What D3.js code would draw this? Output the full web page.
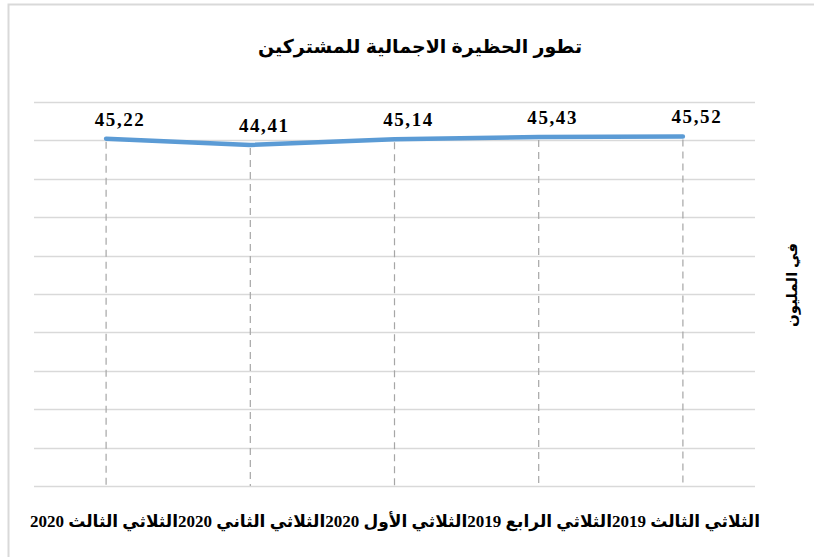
<!DOCTYPE html>
<html>
<head>
<meta charset="utf-8">
<script src="https://cdn.jsdelivr.net/npm/d3@7/dist/d3.min.js"></script>
<style>
  body { margin: 0; background: #fff; }
  svg { display: block; }
</style>
</head>
<body>
<div id="chart"></div>
<script>
const chartTitle = "تطور الحظيرة الاجمالية للمشتركين";
const yTitle = "في المليون";
const categories = [
  "الثلاثي الثالث 2019",
  "الثلاثي الرابع 2019",
  "الثلاثي الأول 2020",
  "الثلاثي الثاني 2020",
  "الثلاثي الثالث 2020"
];
// points run left to right in the order they appear on the picture
const values = [45.22, 44.41, 45.14, 45.43, 45.52];
const yTicks = [0, 5, 10, 15, 20, 25, 30, 35, 40, 45, 50];

const width = 814;
const height = 557;
const margin = { top: 102, right: 59, bottom: 71, left: 34 };

const svg = d3.select("#chart")
  .append("svg")
  .attr("width", width)
  .attr("height", height);

// chart frame (right and bottom run past the picture)
svg.append("rect")
  .attr("x", 8.5)
  .attr("y", 4.5)
  .attr("width", width + 10)
  .attr("height", height + 10)
  .attr("fill", "none")
  .attr("stroke", "#d9d9d9")
  .attr("stroke-width", 2);

const x = d3.scaleBand()
  .domain(d3.range(values.length))
  .range([margin.left, width - margin.right]);

const y = d3.scaleLinear()
  .domain([0, 50])
  .range([height - margin.bottom, margin.top]);

// horizontal gridlines
svg.append("g")
  .selectAll("line")
  .data(yTicks)
  .join("line")
  .attr("x1", margin.left)
  .attr("x2", width - margin.right)
  .attr("y1", d => Math.round(y(d)) + 0.5)
  .attr("y2", d => Math.round(y(d)) + 0.5)
  .attr("stroke", "#d9d9d9")
  .attr("stroke-width", 1.5);

const cx = i => x(i) + x.bandwidth() / 2;

// dashed drop lines
svg.append("g")
  .selectAll("line")
  .data(values)
  .join("line")
  .attr("x1", (d, i) => cx(i))
  .attr("x2", (d, i) => cx(i))
  .attr("y1", d => y(d) + 3)
  .attr("y2", y(0))
  .attr("stroke", "#a6a6a6")
  .attr("stroke-width", 1.2)
  .attr("stroke-dasharray", "7,5");

const line = d3.line()
  .x((d, i) => cx(i))
  .y(d => y(d));

svg.append("path")
  .datum(values)
  .attr("d", line)
  .attr("fill", "none")
  .attr("stroke", "#5b9bd5")
  .attr("stroke-width", 4.5)
  .attr("stroke-linecap", "round")
  .attr("stroke-linejoin", "round");

// data labels
svg.append("g")
  .selectAll("text")
  .data(values)
  .join("text")
  .attr("x", (d, i) => cx(i) + 14)
  .attr("y", d => y(d) - 13)
  .attr("text-anchor", "middle")
  .attr("font-family", "'Liberation Serif', 'Times New Roman', serif")
  .attr("font-weight", "bold")
  .attr("font-size", 19)
  .attr("letter-spacing", 1.6)
  .attr("fill", "#000")
  .text(d => d.toFixed(2).replace(".", ","));

// title
svg.append("text")
  .attr("x", 420)
  .attr("y", 53)
  .attr("text-anchor", "middle")
  .attr("direction", "rtl")
  .attr("font-family", "'Liberation Sans', Arial, 'DejaVu Sans', sans-serif")
  .attr("font-weight", "bold")
  .attr("font-size", 19)
  .attr("fill", "#000")
  .text(chartTitle);

// y axis title
svg.append("text")
  .attr("transform", "translate(797,285) rotate(-90)")
  .attr("text-anchor", "middle")
  .attr("direction", "rtl")
  .attr("font-family", "'Liberation Serif', 'DejaVu Sans', serif")
  .attr("font-weight", "bold")
  .attr("font-size", 15)
  .attr("fill", "#000")
  .text(yTitle);

// category labels, run together in one right-to-left line
svg.append("text")
  .attr("x", 395)
  .attr("y", 527)
  .attr("text-anchor", "middle")
  .attr("direction", "rtl")
  .attr("font-family", "'Liberation Serif', 'DejaVu Sans', serif")
  .attr("font-weight", "bold")
  .attr("font-size", 17)
  .attr("fill", "#000")
  .text(categories.join(""));
</script>
</body>
</html>
